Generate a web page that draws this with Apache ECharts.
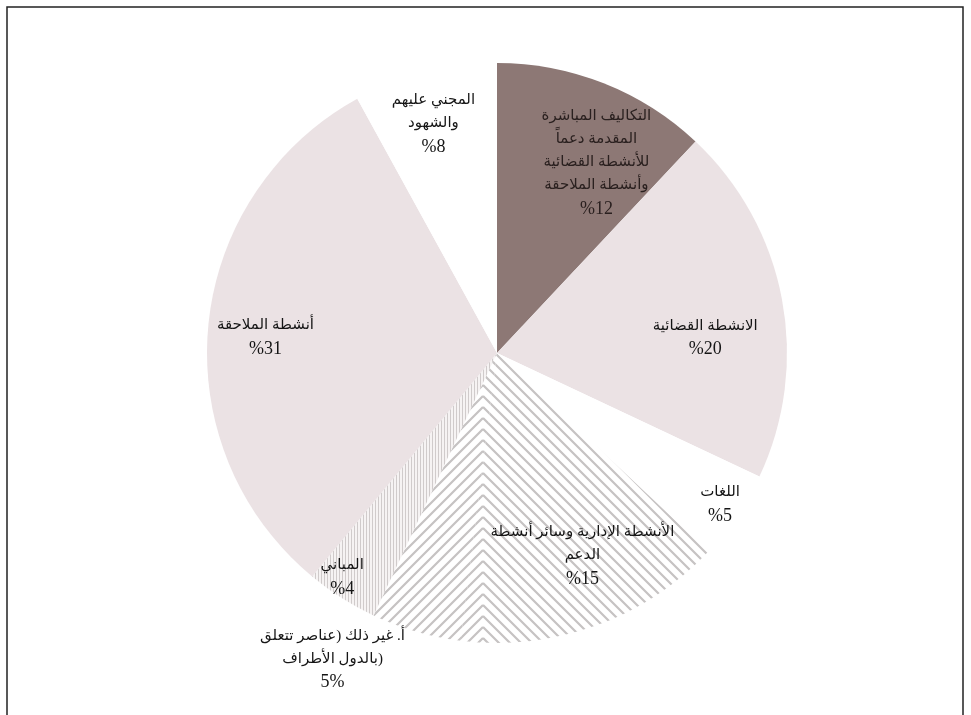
<!DOCTYPE html>
<html>
<head>
<meta charset="utf-8">
<script src="https://cdn.jsdelivr.net/npm/echarts@6/dist/echarts.min.js"></script>
<style>
html,body{margin:0;padding:0;background:#fff;}
#c{width:971px;height:715px;}
</style>
</head>
<body>
<div id="c"></div>
<script>
// ---- data ----
const categories = [
  'التكاليف المباشرة\nالمقدمة دعماً\nللأنشطة القضائية\nوأنشطة الملاحقة',
  'الانشطة القضائية',
  'اللغات',
  'الأنشطة الإدارية وسائر أنشطة\nالدعم',
  'أ. غير ذلك (عناصر تتعلق\nبالدول الأطراف)',
  'المباني',
  'أنشطة الملاحقة',
  'المجني عليهم\nوالشهود'
];
const values = [12, 20, 5, 15, 5, 4, 31, 8];
const percentLabels = ['%12', '%20', '%5', '%15', '5%', '%4', '%31', '%8'];

// ---- styling ----
const labelRadiusFrac = [0.74, 0.72, 0.93, 0.76, 1.2, 0.94, 0.80, 0.82];
const labelAngleShift = [6, 6.7, 0, -3, 12, 2.2, -1.7, -1.1];
const centerPx = [497, 353];
const radiusPx = 290;

function chevronPattern() {
  const W = 971, P = 11, axis = 483;
  const c = document.createElement('canvas');
  c.width = W; c.height = P;
  const g = c.getContext('2d');
  g.fillStyle = '#ffffff';
  g.fillRect(0, 0, W, P);
  g.strokeStyle = '#c6c3c3';
  g.lineWidth = 2.2;
  for (let k = -Math.ceil(W / P) - 2; k <= 2; k++) {
    const c0 = k * P;
    g.beginPath();
    g.moveTo(axis, c0); g.lineTo(axis - W, c0 + W);
    g.moveTo(axis, c0); g.lineTo(axis + W, c0 + W);
    g.stroke();
  }
  return c;
}
function verticalPattern() {
  const c = document.createElement('canvas');
  c.width = 3; c.height = 4;
  const g = c.getContext('2d');
  g.fillStyle = '#f6f3f3';
  g.fillRect(0, 0, 3, 4);
  g.fillStyle = '#d0cbcb';
  g.fillRect(0, 0, 1, 4);
  return c;
}
const chev = { image: chevronPattern(), repeat: 'repeat' };
const vert = { image: verticalPattern(), repeat: 'repeat' };
const sliceColors = ['#8d7875', '#ebe2e4', '#ffffff', chev, chev, vert, '#ebe2e4', '#ffffff'];
const labelColors = ['#2a201f', '#151515', '#151515', '#151515', '#151515', '#151515', '#151515', '#151515'];

const total = values.reduce((a, b) => a + b, 0);
const midAngles = [];
{
  let acc = 0;
  values.forEach(v => { midAngles.push((acc + v / 2) / total * 360); acc += v; });
}

const chart = echarts.init(document.getElementById('c'), null, { renderer: 'canvas' });
chart.setOption({
  animation: false,
  backgroundColor: '#ffffff',
  graphic: [{
    type: 'rect',
    shape: { x: 7, y: 7, width: 956, height: 730 },
    style: { fill: 'none', stroke: '#222', lineWidth: 1.5 },
    silent: true
  }],
  series: [{
    type: 'pie',
    center: [centerPx[0], centerPx[1]],
    radius: radiusPx,
    startAngle: 90,
    clockwise: true,
    avoidLabelOverlap: false,
    data: categories.map((n, i) => ({
      name: n,
      value: values[i],
      itemStyle: { color: sliceColors[i] },
      label: { color: labelColors[i] }
    })),
    itemStyle: { borderWidth: 0 },
    label: {
      show: true,
      position: 'inside',
      fontFamily: '"Liberation Serif", "DejaVu Sans", serif',
      fontSize: 15,
      lineHeight: 23,
      align: 'center',
      formatter: p => p.name + '\n{pct|' + percentLabels[p.dataIndex] + '}',
      rich: {
        pct: {
          fontFamily: '"Liberation Serif", serif',
          fontSize: 18,
          lineHeight: 25
        }
      }
    },
    labelLine: { show: false },
    labelLayout: function (params) {
      const i = params.dataIndex;
      const a = (midAngles[i] + labelAngleShift[i]) * Math.PI / 180;
      const r = radiusPx * labelRadiusFrac[i];
      return {
        x: centerPx[0] + Math.sin(a) * r,
        y: centerPx[1] - Math.cos(a) * r,
        align: 'center',
        verticalAlign: 'middle'
      };
    },
    emphasis: { disabled: true }
  }]
});
</script>
</body>
</html>
